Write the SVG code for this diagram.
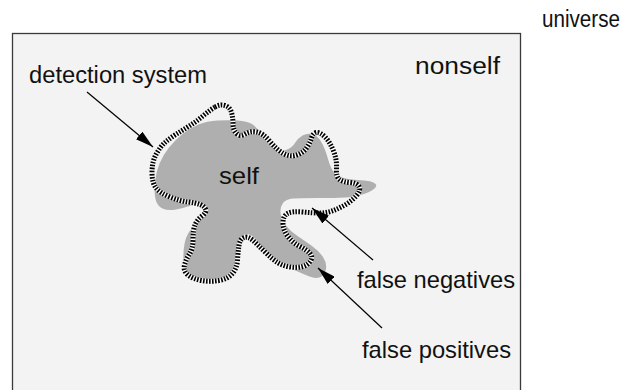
<svg xmlns="http://www.w3.org/2000/svg" width="641" height="390" viewBox="0 0 641 390">
<style>
.t{font-family:"Liberation Sans",Arial,Helvetica,sans-serif;font-size:23px;fill:#111}
.lead{stroke:#000;stroke-width:1.2;fill:none;marker-end:url(#ah)}
</style>
<defs>
<marker id="ah" viewBox="0 0 18 10" refX="18" refY="5" markerWidth="18" markerHeight="10" markerUnits="userSpaceOnUse" orient="auto">
<path d="M0,0 L18,5 L0,10 z" fill="#000"/>
</marker>
<path id="ds" fill="none" d="M215,107 Q220,104 225,105.5 Q230,107 231.5,112.5 Q233,118 233,124 Q233,130 236.5,133.5 Q240,137 245,134 Q250,131 256.5,132 Q263,133 270,141.5 Q277,150 283.5,153.5 Q290,157 296.5,155 Q303,153 306.5,148 Q310,143 311.5,138 Q313,133 316.5,132.5 Q320,132 325,137 Q330,142 333.5,151 Q337,160 336.5,168.5 Q336,177 339.5,179.5 Q343,182 350,182.5 Q357,183 359,186.5 Q361,190 357,195 Q353,200 346.5,204 Q340,208 333.5,210.5 Q327,213 320,213 Q313,213 302.5,212 Q292,211 287.5,213.5 Q283,216 283,223 Q283,230 288,236.5 Q293,243 300,246.5 Q307,250 310,253.5 Q313,257 310.5,261 Q308,265 302.5,266.5 Q297,268 290,267 Q283,266 277.5,262.5 Q272,259 265,252 Q258,245 253,240.5 Q248,236 244,237.5 Q240,239 239,245.5 Q238,252 237.5,260 Q237,268 232.5,273.5 Q228,279 219,280.5 Q210,282 201.5,280.5 Q193,279 188,275 Q183,271 184.5,265 Q186,259 189.5,254 Q193,249 193,239.5 Q193,230 195,225 Q197,220 202,216 Q207,212 205.5,209 Q204,206 200,204.5 Q196,203 188,202 Q180,201 170,197 Q160,193 156,188 Q152,183 152,172.5 Q152,162 156,154.5 Q160,147 165,142.5 Q170,138 176.5,134 Q183,130 190,125.5 Q197,121 203.5,115.5 Q210,110 215,107 Z"/>
</defs>
<rect width="641" height="390" fill="#fff"/>
<g id="universe">
<rect x="12.5" y="33.5" width="508" height="372" fill="#f3f3f3" stroke="#3a3a3a" stroke-width="1.3"/>
<text class="t" x="542" y="27" textLength="78" lengthAdjust="spacingAndGlyphs">universe</text>
<text class="t" x="415" y="74" textLength="85" lengthAdjust="spacingAndGlyphs">nonself</text>
</g>
<g id="self">
<path fill="#afafaf" d="M198.5,124.5 Q207,121 217.5,120.5 Q228,120 237.5,120.5 Q247,121 252,124 Q257,127 261.5,134.5 Q266,142 273,147 Q280,152 286,150 Q292,148 295,143 Q298,138 302.5,135.5 Q307,133 312,134 Q317,135 321,141.5 Q325,148 328,159 Q331,170 335.5,174 Q340,178 348.5,179 Q357,180 364.5,180.5 Q372,181 375,183.5 Q378,186 374,189 Q370,192 362.5,194.5 Q355,197 345,197.5 Q335,198 317.5,198 Q300,198 293,198.5 Q286,199 283,203 Q280,207 280.5,213 Q281,219 285.5,225 Q290,231 297.5,236 Q305,241 312,246 Q319,251 323,257 Q327,263 326,269 Q325,275 320.5,277 Q316,279 309.5,276.5 Q303,274 296.5,271 Q290,268 284.5,266 Q279,264 273.5,259.5 Q268,255 263.5,249 Q259,243 255,238.5 Q251,234 246.5,234 Q242,234 240.5,241 Q239,248 238,258 Q237,268 233,274.5 Q229,281 219.5,282.5 Q210,284 201,282.5 Q192,281 188,275.5 Q184,270 183.5,261 Q183,252 184.5,244 Q186,236 190,230.5 Q194,225 199.5,221 Q205,217 206.5,213 Q208,209 203,206 Q198,203 191,205.5 Q184,208 176,209.5 Q168,211 162.5,208.5 Q157,206 155.5,199 Q154,192 155,182 Q156,172 159.5,163.5 Q163,155 169,147.5 Q175,140 182.5,134 Q190,128 198.5,124.5 Z"/>
<text class="t" x="219" y="184" textLength="40" lengthAdjust="spacingAndGlyphs" style="font-size:24.5px">self</text>
</g>
<g id="detection-system">
<use href="#ds" stroke="#fff" stroke-width="4.5"/>
<use href="#ds" stroke="#000" stroke-width="5" stroke-dasharray="1.6 1.4"/>
<text class="t" x="29" y="83" textLength="178" lengthAdjust="spacingAndGlyphs">detection system</text>
</g>
<g id="false-negatives">
<text class="t" x="357" y="288" textLength="158" lengthAdjust="spacingAndGlyphs" style="font-size:24px">false negatives</text>
</g>
<g id="false-positives">
<text class="t" x="362" y="358" textLength="149" lengthAdjust="spacingAndGlyphs" style="font-size:24px">false positives</text>
</g>
<g id="connectors">
<line class="lead" x1="87" y1="92" x2="153" y2="147"/>
<line class="lead" x1="373" y1="260" x2="312" y2="208"/>
<line class="lead" x1="382" y1="328" x2="318" y2="268"/>
</g>
</svg>
